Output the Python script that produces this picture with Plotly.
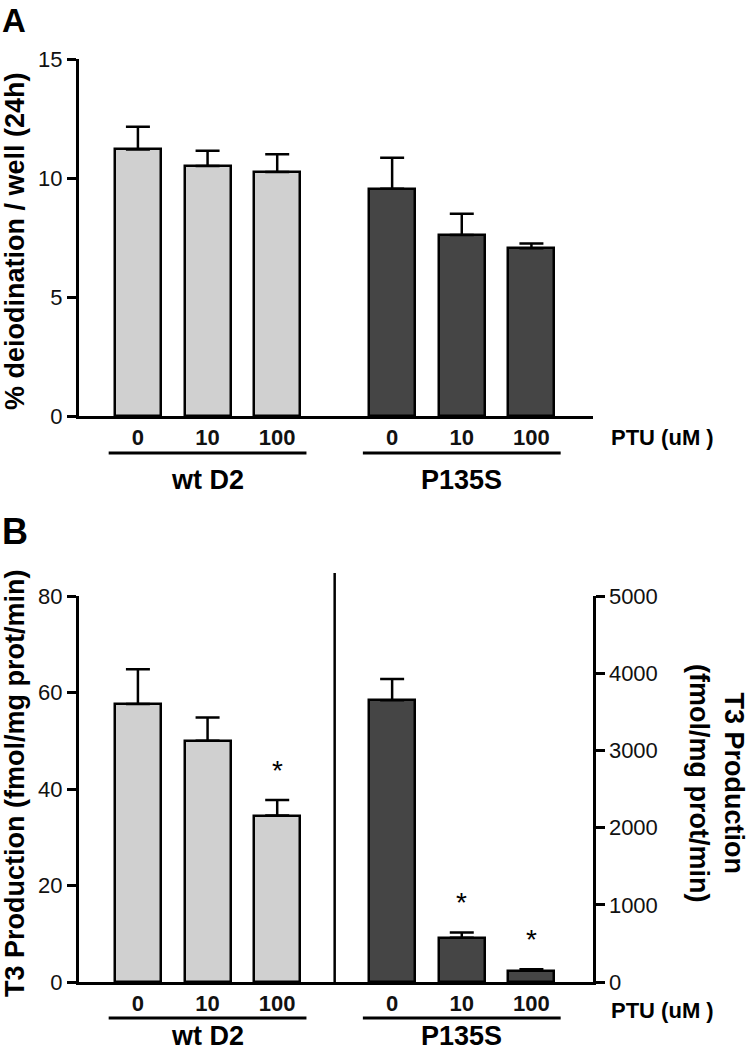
import plotly.graph_objects as go

# ---------------- data ----------------
doses = ["0", "10", "100"]
groups = ["wt D2", "P135S"]
dose_unit = "PTU (uM )"

deiod_wt = [11.2, 10.5, 10.25]
deiod_wt_err = [0.95, 0.65, 0.75]
deiod_p = [9.55, 7.6, 7.05]
deiod_p_err = [1.3, 0.9, 0.2]

t3_wt = [57.6, 50.0, 34.5]
t3_wt_err = [7.2, 4.8, 3.2]
t3_p = [3650, 572, 146]
t3_p_err = [275, 70, 18]
t3_wt_sig = [False, False, True]
t3_p_sig = [False, True, True]

yticks_a = [0, 5, 10, 15]
yticks_b_left = [0, 20, 40, 60, 80]
yticks_b_right = [0, 1000, 2000, 3000, 4000, 5000]

# ---------------- layout constants ----------------
W, H = 750, 1052
FONT = "Arial, 'Liberation Sans', sans-serif"
LIGHT = "#d0d0d0"
DARK = "#454545"
GROUP_OFFSET = 3.65
BAR_W = 0.66
XR = [-0.846, 6.527]

def px_x(p):
    return p / W

def px_y(p):
    return 1 - p / H

XDOM = [px_x(79), px_x(592.5)]
YDOM_A = [px_y(416), px_y(59)]
YDOM_B = [px_y(982), px_y(596)]

pos_wt = [i for i in range(len(doses))]
pos_p = [i + GROUP_OFFSET for i in range(len(doses))]

def data_to_paper_x(x):
    return XDOM[0] + (x - XR[0]) / (XR[1] - XR[0]) * (XDOM[1] - XDOM[0])

def bar(x, y, err, color, xa, ya):
    return go.Bar(
        x=x, y=y, width=BAR_W, xaxis=xa, yaxis=ya,
        marker=dict(color=color, line=dict(color="black", width=2.5)),
        error_y=dict(type="data", array=err, arrayminus=[0] * len(err),
                     symmetric=False, color="black", thickness=2.5, width=12),
        showlegend=False, hoverinfo="skip",
    )

fig = go.Figure()
fig.add_trace(bar(pos_wt, deiod_wt, deiod_wt_err, LIGHT, "x", "y"))
fig.add_trace(bar(pos_p, deiod_p, deiod_p_err, DARK, "x", "y"))
fig.add_trace(bar(pos_wt, t3_wt, t3_wt_err, LIGHT, "x2", "y3"))
fig.add_trace(bar(pos_p, t3_p, t3_p_err, DARK, "x2", "y4"))

tickfont = dict(family=FONT, size=22, color="#111")
xtickfont = dict(family=FONT, size=22, color="#111", weight="bold")

def xaxis(anchor):
    return dict(domain=XDOM, range=XR, anchor=anchor, showline=True,
                linecolor="black", linewidth=3, showgrid=False, zeroline=False,
                tickvals=pos_wt + pos_p, ticktext=doses + doses,
                ticks="", tickfont=xtickfont, fixedrange=True, automargin=False)

def yaxis(dom, rng, vals, anchor, side="left", overlaying=None):
    d = dict(domain=dom, range=rng, tickvals=vals, anchor=anchor, side=side,
             showline=True, linecolor="black", linewidth=3, showgrid=False,
             zeroline=False, ticks="outside", ticklen=9, tickwidth=2.5,
             tickcolor="black", tickfont=tickfont, fixedrange=True,
             automargin=False)
    if overlaying:
        d["overlaying"] = overlaying
    return d

fig.update_layout(
    template="none",
    width=W, height=H,
    margin=dict(l=0, r=0, t=0, b=0, pad=0, autoexpand=False),
    paper_bgcolor="white", plot_bgcolor="rgba(0,0,0,0)",
    bargap=0, showlegend=False,
    xaxis=xaxis("y"),
    yaxis=yaxis(YDOM_A, [0, 15], yticks_a, "x"),
    xaxis2=xaxis("y3"),
    yaxis3=yaxis(YDOM_B, [0, 80], yticks_b_left, "x2"),
    yaxis4=yaxis(YDOM_B, [0, 5000], yticks_b_right, "x2", side="right", overlaying="y3"),
    font=dict(family=FONT, color="black"),
)

ann = []
shapes = []
lbl_bold = dict(family=FONT, size=27, color="black", weight="bold")

# panel letters
ann.append(dict(text="A", x=px_x(0), y=px_y(21), xref="paper", yref="paper",
                xanchor="left", yanchor="middle", showarrow=False,
                font=dict(family=FONT, size=33, color="black", weight="bold")))
ann.append(dict(text="B", x=px_x(0), y=px_y(531), xref="paper", yref="paper",
                xanchor="left", yanchor="middle", showarrow=False,
                font=dict(family=FONT, size=36, color="black", weight="bold")))

# y axis titles
ann.append(dict(text="% deiodination / well (24h)", x=px_x(15), y=px_y(241),
                xref="paper", yref="paper", textangle=-90, showarrow=False,
                xanchor="center", yanchor="middle", font=lbl_bold))
ann.append(dict(text="T3 Production (fmol/mg prot/min)", x=px_x(15), y=px_y(784),
                xref="paper", yref="paper", textangle=-90, showarrow=False,
                xanchor="center", yanchor="middle", font=lbl_bold))
ann.append(dict(text="T3 Production<br>(fmol/mg prot/min)", x=px_x(717), y=px_y(783),
                xref="paper", yref="paper", textangle=90, showarrow=False,
                xanchor="center", yanchor="middle", font=lbl_bold))

# group underlines and labels, PTU label
for (line_y, label_y, unit_y) in [(453, 480, 438), (1018, 1036, 1010)]:
    for g, pos in zip(groups, [pos_wt, pos_p]):
        x0 = data_to_paper_x(pos[0] - 0.42)
        x1 = data_to_paper_x(pos[-1] + 0.42)
        shapes.append(dict(type="line", xref="paper", yref="paper",
                           x0=x0, x1=x1, y0=px_y(line_y), y1=px_y(line_y),
                           line=dict(color="black", width=3)))
        ann.append(dict(text=g, x=data_to_paper_x(pos[1]), y=px_y(label_y),
                        xref="paper", yref="paper", showarrow=False,
                        xanchor="center", yanchor="middle", font=lbl_bold,
                        borderpad=0))
    ann.append(dict(text=dose_unit, x=px_x(609), y=px_y(unit_y), xref="paper",
                    yref="paper", xanchor="left", yanchor="middle", showarrow=False,
                    font=dict(family=FONT, size=22, color="black", weight="bold")))

# divider in panel B
xd = data_to_paper_x((pos_wt[-1] + pos_p[0]) / 2)
shapes.append(dict(type="line", xref="paper", yref="paper", x0=xd, x1=xd,
                   y0=YDOM_B[0], y1=px_y(573), line=dict(color="black", width=2.5)))

# significance stars
for pos, vals, errs, sig, ya in [(pos_wt, t3_wt, t3_wt_err, t3_wt_sig, "y3"),
                                 (pos_p, t3_p, t3_p_err, t3_p_sig, "y4")]:
    for x, v, e, s in zip(pos, vals, errs, sig):
        if s:
            ann.append(dict(text="*", x=x, y=v + e, xref="x2", yref=ya,
                            showarrow=False, xanchor="center", yanchor="middle",
                            yshift=30, font=dict(family=FONT, size=28, color="black")))

fig.update_layout(annotations=ann, shapes=shapes)

fig.write_html("out.html", config={"displayModeBar": False},
               post_script="document.body.style.margin='0';document.body.style.overflow='hidden';")
